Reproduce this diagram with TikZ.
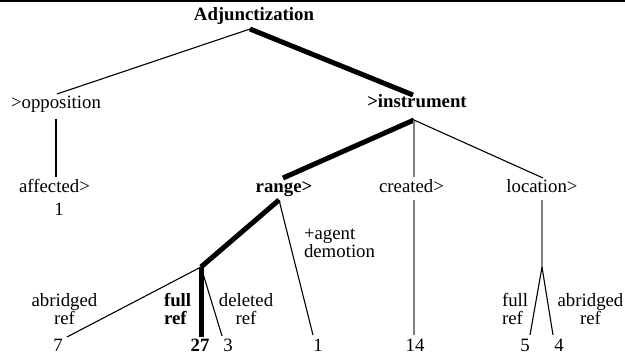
\documentclass[tikz,border=0pt]{standalone}
\usepackage{fontspec}
\setmainfont{Liberation Serif}
\begin{document}
\begin{tikzpicture}[x=1pt,y=-1pt,
  lbl/.style={inner sep=0pt,outer sep=0pt,anchor=base,font=\fontsize{18.8}{18.5}\selectfont},
  blbl/.style={lbl,font=\fontsize{18.8}{18.5}\selectfont\bfseries},
  thin/.style={line width=1.1pt,line cap=butt},
  thick/.style={line width=5pt,line cap=butt},
  grayline/.style={line width=1.2pt,draw=black!50}]
\useasboundingbox (0,0) rectangle (625,358);
\fill[black] (0,0) rectangle (625,2.3);
% labels
\node[blbl] (adj) at (254,21) {Adjunctization};
\node[lbl] (opp) at (56,109) {>opposition};
\node[blbl] (inst) at (417,108) {>instrument};
\node[lbl] (aff) at (54.5,193) {affected>};
\node[lbl] (n1a) at (59,216) {1};
\node[blbl] (range) at (284,193) {range>};
\node[lbl] (created) at (411.5,193) {created>};
\node[lbl] (loc) at (542,193) {location>};
\node[lbl,anchor=base west,align=left] (agent) at (304,258) {+agent\\demotion};
\node[lbl,align=center] (abr1) at (64.5,325) {abridged\\ref};
\node[blbl,anchor=base west,align=left] (full1) at (164,325) {full\\ref};
\node[lbl,align=center] (del) at (246,325) {deleted\\ref};
\node[lbl,anchor=base west,align=left] (full2) at (502,325) {full\\ref};
\node[lbl,align=center] (abr2) at (590.5,325) {abridged\\ref};
\node[lbl] (n7) at (58,352) {7};
\node[blbl] (n27) at (200,352) {27};
\node[lbl] (n3) at (228,352) {3};
\node[lbl] (n1b) at (318,352) {1};
\node[lbl] (n14) at (415,352) {14};
\node[lbl] (n5) at (525,352) {5};
\node[lbl] (n4) at (559,352) {4};
% junction points
\coordinate (adjB) at (250,29);
\coordinate (oppT) at (57,94);
\coordinate (oppB) at (56,119);
\coordinate (affT) at (56,177);
\coordinate (instT) at (413,95);
\coordinate (instB) at (414,120);
\coordinate (rangeT) at (283,178);
\coordinate (createdT) at (414,177);
\coordinate (locT) at (543,178);
\coordinate (rangeB) at (279,200);
\coordinate (fullJ) at (201,267);
\coordinate (agentE) at (313,335);
\coordinate (e7) at (67,337);
\coordinate (e27) at (201,337);
\coordinate (e3) at (222,336);
\coordinate (createdB) at (414,200);
\coordinate (e14) at (414,335);
\coordinate (locB) at (542,200);
\coordinate (locJ) at (542,267);
\coordinate (e5) at (530,335);
\coordinate (e4) at (553,335);
% connectors
\draw[thin] (adjB) -- (oppT);
\draw[thick] (adjB) -- (instT);
\draw[thin] (oppB) -- (affT);
\draw[thick] (instB) -- (rangeT);
\draw[grayline] (instB) -- (createdT);
\draw[thin] (instB) -- (locT);
\draw[thick] (rangeB) -- (fullJ);
\draw[thin] (rangeB) -- (agentE);
\draw[thin] (fullJ) -- (e7);
\draw[thick] (fullJ) -- (e27);
\draw[thin] (fullJ) -- (e3);
\draw[grayline] (createdB) -- (e14);
\draw[grayline] (locB) -- (locJ);
\draw[thin] (locJ) -- (e5);
\draw[thin] (locJ) -- (e4);
\end{tikzpicture}
\end{document}
